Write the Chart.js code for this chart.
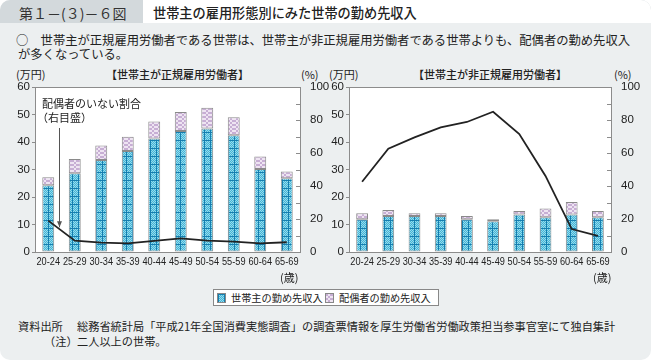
<!DOCTYPE html>
<html>
<head>
<meta charset="utf-8">
<script src="https://cdn.jsdelivr.net/npm/chart.js@4"></script>
<style>
  body { margin: 0; background: #fff; font-family: 'Noto Sans CJK JP', sans-serif; }
  #page { position: relative; width: 651px; height: 360px; background: #eceff0; border-radius: 10px; overflow: hidden; color: #222; }
  .abs { position: absolute; white-space: nowrap; }
  #band { left: 0; top: 0; width: 651px; height: 23px; background: #d3d9dc; }
  #titlebox { left: 143px; top: 0; width: 508px; height: 23px; background: #fff; }
  canvas { position: absolute; }
  .lg { display: inline-block; width: 7px; height: 8px; border: 1px solid #888; vertical-align: -1px; margin-right: 5px; }
</style>
</head>
<body>
<div id="page">
  <div class="abs" id="band"></div>
  <div class="abs" id="titlebox"></div>
  <div class="abs" style="left:19px;top:3px;font-size:14px;color:#333;">第１－(３)－６図</div>
  <div class="abs" style="left:153px;top:3px;font-size:13.2px;font-weight:500;">世帯主の雇用形態別にみた世帯の勤め先収入</div>
  <div class="abs" style="left:16px;top:33px;font-size:12.3px;line-height:14px;">○　世帯主が正規雇用労働者である世帯は、世帯主が非正規雇用労働者である世帯よりも、配偶者の勤め先収入<br><span style="padding-left:2px">が多くなっている。</span></div>

  <div class="abs" style="left:16px;top:66px;font-size:11px;">(万円)</div>
  <div class="abs" style="left:106px;top:66px;font-size:11px;font-weight:500;">【世帯主が正規雇用労働者】</div>
  <div class="abs" style="left:301px;top:66px;font-size:11px;">(%)</div>
  <div class="abs" style="left:329px;top:66px;font-size:11px;">(万円)</div>
  <div class="abs" style="left:413px;top:66px;font-size:11px;font-weight:500;">【世帯主が非正規雇用労働者】</div>
  <div class="abs" style="left:614px;top:66px;font-size:11px;">(%)</div>

  <canvas id="left" width="330" height="225" style="left:0;top:60px;"></canvas>
  <canvas id="right" width="330" height="225" style="left:318px;top:60px;"></canvas>

  <div class="abs" style="left:280px;top:269px;font-size:11px;">(歳)</div>
  <div class="abs" style="left:593px;top:269px;font-size:11px;">(歳)</div>

  <div class="abs" style="left:213px;top:289px;width:221px;height:15px;background:#fff;border:1px solid #888;font-size:10.2px;line-height:15px;padding-left:3px;">
    <span class="lg" id="lg1"></span>世帯主の勤め先収入&nbsp;<span class="lg" id="lg2"></span>配偶者の勤め先収入
  </div>

  <div class="abs" style="left:18px;top:318px;font-size:11.2px;">資料出所</div>
  <div class="abs" style="left:77px;top:318px;font-size:11.2px;">総務省統計局「平成21年全国消費実態調査」の調査票情報を厚生労働省労働政策担当参事官室にて独自集計</div>
  <div class="abs" style="left:44px;top:333px;font-size:11.2px;">（注）</div>
  <div class="abs" style="left:77px;top:333px;font-size:11.2px;">二人以上の世帯。</div>
</div>
<script>
// age groups
const ages = ['20-24', '25-29', '30-34', '35-39', '40-44', '45-49', '50-54', '55-59', '60-64', '65-69'];

// regular employee head of household (万円)
const regHead = [24.3, 28.6, 33.5, 36.7, 41.3, 44.0, 44.9, 42.5, 30.2, 26.8];
const regSpouse = [2.9, 5.2, 5.2, 5.2, 6.2, 6.9, 7.6, 6.5, 4.5, 2.5];
const regNoSpouse = [19.0, 6.9, 5.7, 5.2, 6.7, 8.3, 6.9, 6.3, 5.2, 5.9];

// non-regular employee head of household (万円)
const nonHead = [11.9, 13.1, 13.1, 13.1, 11.9, 11.2, 13.6, 12.6, 13.6, 12.6];
const nonSpouse = [2.2, 2.2, 1.0, 1.0, 1.2, 0.7, 1.3, 3.2, 4.6, 2.3];
const nonNoSpouse = [42.6, 62.6, 69.5, 75.5, 78.8, 85.0, 71.5, 46.1, 13.9, 9.7];

const leftTicks = [0, 10, 20, 30, 40, 50, 60];
const rightTicks = [0, 10, 20, 30, 40, 50, 60, 70, 80, 90, 100];

const seriesNames = ['世帯主の勤め先収入', '配偶者の勤め先収入', '配偶者のいない割合'];

function makeTile(kind) {
  const c = document.createElement('canvas');
  c.width = 6; c.height = 8;
  const g = c.getContext('2d');
  if (kind === 'head') {
    g.fillStyle = '#41b5d6';
    g.fillRect(0, 0, 6, 8);
    g.fillStyle = '#98d9ec';
    for (let y = 0; y < 8; y++) for (let x = 0; x < 6; x++) if ((x + y) % 2 === 0) g.fillRect(x, y, 1, 1);
    g.fillStyle = '#157fb0';
    g.fillRect(0, 0, 6, 1);
    g.fillRect(0, 1, 1, 7);
  } else {
    g.fillStyle = '#eee4f2';
    g.fillRect(0, 0, 6, 8);
    g.fillStyle = '#c7aed4';
    for (let y = 0; y < 8; y += 2) for (let x = 0; x < 6; x += 2) if (((x + y) / 2) % 2 === 0) g.fillRect(x, y, 2, 2);
  }
  return c;
}
const headTile = makeTile('head');
const spouseTile = makeTile('spouse');
document.getElementById('lg1').style.background = 'url(' + headTile.toDataURL() + ')';
document.getElementById('lg2').style.background = 'url(' + spouseTile.toDataURL() + ')';

const frame = {
  id: 'frame',
  beforeDatasetsDraw(chart) {
    const a = chart.chartArea, ctx = chart.ctx;
    ctx.save();
    ctx.fillStyle = '#fff';
    ctx.fillRect(a.left, a.top, a.right - a.left, a.bottom - a.top);
    ctx.restore();
  },
  afterDatasetsDraw(chart) {
    const a = chart.chartArea, ctx = chart.ctx, y1 = chart.scales.y1, xs = chart.scales.x;
    ctx.save();
    ctx.strokeStyle = '#8c8c8c';
    ctx.lineWidth = 1;
    ctx.strokeRect(Math.round(a.left) + 0.5, Math.round(a.top) + 0.5, Math.round(a.right - a.left), Math.round(a.bottom - a.top));
    // inward ticks on the right axis
    ctx.beginPath();
    rightTicks.forEach(v => {
      const py = Math.round(y1.getPixelForValue(v)) + 0.5;
      ctx.moveTo(a.right - 4, py);
      ctx.lineTo(a.right, py);
    });
    ctx.stroke();
    // condensed category labels
    ctx.fillStyle = '#222';
    ctx.font = '11.5px "Liberation Sans"';
    ctx.textAlign = 'center';
    ctx.textBaseline = 'middle';
    ages.forEach((lab, i) => {
      ctx.save();
      ctx.translate(xs.getPixelForValue(i), a.bottom + 10);
      ctx.scale(0.8, 1);
      ctx.fillText(lab, 0, 0);
      ctx.restore();
    });
    if (chart.options.plugins.note) {
      const x = Math.round(xs.getPixelForValue(0) + 11) + 0.5;
      ctx.textAlign = 'left';
      ctx.font = '11px "Noto Sans CJK JP"';
      ctx.fillText('配偶者のいない割合', a.left + 7, 44);
      ctx.fillText('（右目盛）', a.left + 2, 58);
      const yEnd = y1.getPixelForValue(15);
      ctx.strokeStyle = '#555';
      ctx.beginPath();
      ctx.moveTo(x, 68);
      ctx.lineTo(x, yEnd);
      ctx.stroke();
      ctx.fillStyle = '#555';
      ctx.beginPath();
      ctx.moveTo(x - 2.5, yEnd - 6);
      ctx.lineTo(x + 2.5, yEnd - 6);
      ctx.lineTo(x, yEnd);
      ctx.closePath();
      ctx.fill();
    }
    ctx.restore();
  }
};

function buildChart(id, head, spouse, noSpouse, leftW, rightW, note) {
  const ctx = document.getElementById(id).getContext('2d');
  return new Chart(ctx, {
    type: 'bar',
    data: {
      labels: ages,
      datasets: [
        {
          type: 'line', label: seriesNames[2], data: noSpouse, yAxisID: 'y1',
          borderColor: '#222', borderWidth: 1.8, pointRadius: 0, tension: 0, order: 0,
        },
        {
          label: seriesNames[0], data: head, yAxisID: 'y', stack: 'inc',
          backgroundColor: ctx.createPattern(headTile, 'repeat'),
          borderColor: '#8a8a8a', borderWidth: 1, borderSkipped: false, order: 1,
          barPercentage: 0.45, categoryPercentage: 1,
        },
        {
          label: seriesNames[1], data: spouse, yAxisID: 'y', stack: 'inc',
          backgroundColor: ctx.createPattern(spouseTile, 'repeat'),
          borderColor: '#8a8a8a', borderWidth: 1, borderSkipped: false, order: 1,
          barPercentage: 0.45, categoryPercentage: 1,
        },
      ],
    },
    options: {
      responsive: false,
      animation: false,
      layout: { padding: { top: 27, left: 0, right: 0, bottom: 0 } },
      plugins: { legend: { display: false }, tooltip: { enabled: false }, note: note },
      scales: {
        x: {
          stacked: true,
          grid: { display: false },
          border: { display: false },
          ticks: { display: false },
          afterFit: s => { s.height = 33; },
        },
        y: {
          stacked: true, min: 0, max: 60,
          afterBuildTicks: s => { s.ticks = leftTicks.map(v => ({ value: v })); },
          grid: { drawOnChartArea: false, drawTicks: true, tickLength: 3, color: '#8c8c8c' },
          border: { display: true, color: '#8c8c8c' },
          ticks: { padding: 2, color: '#222', font: { family: "'Liberation Sans'", size: 11.5 } },
          afterFit: s => { s.width = leftW; },
        },
        y1: {
          position: 'right', min: 0, max: 100,
          afterBuildTicks: s => { s.ticks = rightTicks.map(v => ({ value: v })); },
          grid: { display: false },
          border: { display: false },
          ticks: { padding: 2, color: '#222', font: { family: "'Liberation Sans'", size: 11.5 } },
          afterFit: s => { s.width = rightW; },
        },
      },
    },
    plugins: [frame],
  });
}

buildChart('left', regHead, regSpouse, regNoSpouse, 35, 30, true);
buildChart('right', nonHead, nonSpouse, nonNoSpouse, 31, 37, false);
</script>
</body>
</html>
